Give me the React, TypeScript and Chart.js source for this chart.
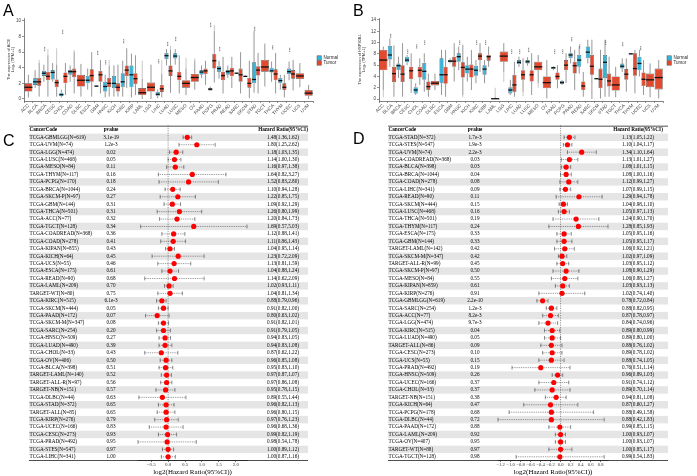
import React, { useEffect, useRef } from "react";
import { Chart, registerables } from "chart.js";

Chart.register(...registerables);

const SANS = "'Liberation Sans', Arial, sans-serif";
const SERIF = "'Liberation Serif', 'Times New Roman', serif";
const NORMAL_COLOR = "#35b3d8";
const TUMOR_COLOR = "#e24a2f";
const AXIS = "#4a4a4a";

type Box = number[] | null; // [lower whisker, Q1, median, Q3, upper whisker]
type Num = number | null;

const CANCERS = [
  "ACC", "BLCA", "BRCA", "CESC", "CHOL", "COAD", "DLBC", "ESCA", "GBM", "HNSC", "KICH",
  "KIRC", "KIRP", "LAML", "LGG", "LIHC", "LUAD", "LUSC", "MESO", "OV", "PAAD", "PCPG",
  "PRAD", "READ", "SARC", "SKCM", "STAD", "TGCT", "THCA", "THYM", "UCEC", "UCS", "UVM",
];

// ---- ACE expression, log2(TPM+1) ----
const ACE_NORMAL: Box[] = [
  null, [1.4, 1.8, 2.2, 2.65, 3.7], [2.2, 2.95, 3.3, 3.6, 4.4], [2.2, 2.5, 3.4, 3.7, 4.6],
  [0.2, 0.35, 0.55, 0.8, 1.2], [2.2, 3.1, 3.5, 3.7, 4.3], null, [1.2, 2.0, 2.4, 2.95, 3.9],
  [1.55, 1.6, 1.65, 1.7, 1.75], [0.2, 0.95, 1.6, 2.2, 3.1], [0.3, 1.4, 2.0, 2.95, 4.3],
  [0.3, 1.5, 2.2, 3.3, 4.9], [0.2, 1.5, 3.1, 4.3, 5.8], null, null, [0.1, 0.4, 0.6, 0.9, 1.2],
  [4.3, 5.1, 5.55, 5.9, 6.4], [4.4, 5.2, 5.5, 5.85, 6.4], null, null, [2.7, 3.1, 3.45, 3.7, 4.3],
  [1.05, 1.1, 1.25, 1.4, 1.6], [2.6, 3.5, 3.9, 4.2, 4.9], [2.7, 3.1, 3.5, 3.7, 4.3],
  [3.25, 3.3, 3.3, 3.35, 3.4], [2.85, 2.9, 2.9, 2.95, 3.0], [0.8, 2.0, 2.5, 4.7, 8.7], null,
  [2.2, 3.4, 3.6, 4.0, 4.8], [1.2, 2.0, 2.35, 2.7, 3.1], [2.4, 3.2, 3.5, 3.9, 4.8], null, null,
];
const ACE_TUMOR: Box[] = [
  [0.2, 0.95, 1.5, 2.0, 3.1], [0.3, 1.7, 2.2, 2.7, 4.6], [0.3, 2.4, 2.9, 3.5, 5.6],
  [0.3, 1.5, 2.1, 2.5, 4.4], [0.5, 2.0, 2.9, 3.4, 4.6], [0.7, 2.8, 3.5, 3.9, 6.0],
  [0.3, 1.6, 2.4, 3.1, 4.5], [0.3, 2.2, 3.0, 3.8, 6.0], [0.7, 2.2, 3.1, 3.6, 5.0],
  [0.3, 1.5, 2.0, 2.7, 4.3], [0.3, 0.95, 1.5, 2.0, 4.4], [1.4, 2.9, 3.7, 4.3, 6.5],
  [0.5, 1.9, 2.6, 3.3, 5.6], [0.0, 0.5, 0.8, 1.4, 2.6], [0.0, 0.95, 1.5, 2.1, 4.4],
  [0.2, 0.9, 1.3, 1.8, 3.2], [0.8, 2.95, 3.6, 4.3, 6.3], [0.7, 2.4, 2.9, 3.5, 5.6],
  [0.5, 1.45, 2.0, 2.4, 3.9], [1.2, 2.2, 2.75, 3.2, 4.9], [1.8, 3.2, 3.6, 3.9, 4.9],
  [2.1, 3.9, 4.9, 5.8, 8.7], [0.7, 2.4, 3.0, 3.5, 5.4], [1.4, 2.9, 3.6, 4.0, 5.4],
  [0.7, 2.2, 3.1, 3.9, 6.0], [0.1, 1.45, 2.0, 2.7, 4.9], [0.7, 3.0, 3.7, 4.2, 5.9],
  [1.6, 3.5, 4.1, 5.0, 7.1], [0.7, 2.4, 3.2, 3.8, 5.9], [0.2, 1.15, 1.5, 2.0, 3.1],
  [1.1, 2.6, 3.2, 3.7, 5.0], [1.5, 2.55, 2.95, 3.3, 4.6], [0.0, 0.4, 0.75, 1.15, 1.8],
];
// highest outlier above the upper whisker
const ACE_TUMOR_OUT_HI: Num[] = [
  null, 5.0, 6.4, 6.5, null, 6.3, null, null, null, 5.0, null, null, null, 4.9, null, 5.0,
  6.8, null, 5.3, 5.2, null, 9.5, null, null, null, null, null, null, null, null, null, null, null,
];
const ACE_SIG_Y: Num[] = [
  null, null, 6.4, null, 8.6, null, null, null, 5.9, 4.7, null, 7.4, null, null, null, 4.8,
  7.05, 7.7, null, null, null, 9.5, 6.4, null, null, null, 9.0, null, 6.6, null, 6.3, null, null,
];

// ---- HSP90B1 expression, log2(TPM+1) ----
const HSP_NORMAL: Box[] = [
  null, [5.7, 7.0, 7.8, 9.4, 10.7], [3.7, 5.1, 5.9, 6.3, 7.5], [6.0, 6.5, 6.9, 7.5, 7.8],
  [0.7, 1.0, 1.6, 2.1, 2.8], [1.3, 3.4, 4.9, 6.4, 8.1], null, [0.7, 2.8, 4.3, 7.2, 8.7],
  [6.3, 6.5, 6.7, 6.9, 7.2], [5.1, 6.6, 7.5, 8.1, 9.3], [3.1, 4.5, 5.3, 6.0, 7.5],
  [2.8, 4.1, 5.1, 5.9, 6.9], [2.8, 4.3, 5.3, 6.0, 6.9], null, null, [0.7, 1.0, 1.6, 2.1, 3.4],
  [5.7, 6.2, 6.5, 6.9, 7.5], [5.9, 6.3, 6.6, 6.9, 7.4], null, null, [5.1, 5.3, 5.55, 5.7, 5.8],
  [2.5, 2.7, 2.9, 3.2, 3.4], [6.3, 7.2, 7.8, 8.2, 9.3], [4.5, 5.7, 6.9, 7.8, 9.3],
  [6.3, 7.2, 8.3, 9.3, 10.5], [3.55, 3.6, 3.6, 3.65, 3.7], [0.4, 3.7, 6.5, 7.8, 10.5], null,
  [4.8, 5.4, 5.8, 6.3, 7.2], [7.9, 7.95, 8.0, 8.05, 8.1], [4.0, 5.1, 6.3, 7.5, 8.7], null, null,
];
const HSP_TUMOR: Box[] = [
  [1.6, 5.1, 6.9, 8.7, 9.3], [0.4, 3.0, 4.5, 5.7, 9.5], [0.4, 3.0, 4.4, 6.0, 9.9],
  [1.1, 3.5, 5.0, 5.7, 8.1], [2.5, 3.8, 5.1, 5.7, 7.2], [0.4, 1.6, 2.2, 3.1, 4.5],
  [1.6, 2.4, 2.8, 3.2, 4.5], [0.4, 2.7, 4.3, 5.7, 8.7], [3.1, 5.7, 6.7, 7.5, 9.9],
  [0.7, 3.8, 5.6, 6.5, 9.6], [1.6, 3.8, 5.3, 6.1, 8.7], [4.8, 6.9, 7.6, 8.1, 9.9],
  [5.7, 6.8, 7.5, 7.8, 9.3], [0.0, 0.0, 0.05, 0.1, 0.4], [4.8, 6.6, 7.6, 8.4, 9.9],
  [0.4, 1.3, 2.5, 4.3, 6.6], [1.3, 3.4, 4.3, 5.1, 7.2], [0.7, 3.1, 4.3, 5.1, 8.1],
  [2.8, 5.1, 5.7, 6.6, 7.8], [0.1, 1.9, 2.9, 4.0, 6.9], [1.9, 3.4, 4.0, 4.7, 6.0],
  [2.8, 5.1, 6.0, 6.9, 8.1], [1.6, 4.5, 5.9, 6.6, 8.7], [0.4, 1.6, 2.3, 3.1, 4.8],
  [0.0, 4.3, 5.8, 7.8, 10.5], [0.1, 1.9, 3.5, 5.4, 8.7], [0.4, 2.2, 3.2, 4.5, 7.5],
  [0.3, 1.5, 2.5, 4.0, 5.7], [1.3, 3.4, 4.4, 5.3, 7.2], [1.0, 4.1, 5.4, 8.1, 8.7],
  [0.7, 2.3, 3.5, 4.7, 6.9], [0.3, 2.1, 3.4, 4.5, 6.3], [0.1, 1.7, 3.8, 5.4, 6.9],
];
const HSP_TUMOR_OUT_HI: Num[] = [
  null, null, null, null, null, null, null, null, null, null, null, null, null, 2.0, null, null,
  null, null, null, null, null, null, null, null, null, null, null, null, null, null, null, null, null,
];
const HSP_TUMOR_OUT_LO: Num[] = [
  0.3, null, null, null, null, null, null, null, null, 0.3, null, null, null, null, 3.0, null,
  0.5, null, 2.0, null, null, null, null, null, null, null, null, null, null, null, null, null, null,
];
const HSP_SIG_Y: Num[] = [
  null, 11.2, null, 8.4, 9.3, 10.0, null, null, null, 10.0, null, 10.0, 10.0, null, null, 8.4,
  8.4, 8.7, null, null, 8.4, 8.4, 10.6, 9.3, null, null, 10.0, null, 9.7, null, 9.0, null, null,
];

// ---- univariate Cox results, ACE ----
const C_CODES = [
  "TCGA-GBMLGG(N=619)", "TCGA-UVM(N=74)", "TCGA-LGG(N=474)", "TCGA-LUSC(N=468)", "TCGA-MESO(N=84)",
  "TCGA-THYM(N=117)", "TCGA-PCPG(N=170)", "TCGA-BRCA(N=1044)", "TCGA-SKCM-P(N=97)", "TCGA-GBM(N=144)",
  "TCGA-THCA(N=501)", "TCGA-ACC(N=77)", "TCGA-TGCT(N=128)", "TCGA-COADREAD(N=368)", "TCGA-COAD(N=278)",
  "TCGA-KIPAN(N=855)", "TCGA-KICH(N=64)", "TCGA-UCS(N=55)", "TCGA-ESCA(N=175)", "TCGA-READ(N=90)",
  "TCGA-LAML(N=209)", "TARGET-WT(N=80)", "TCGA-KIRC(N=515)", "TCGA-SKCM(N=444)", "TCGA-PAAD(N=172)",
  "TCGA-SKCM-M(N=347)", "TCGA-SARC(N=254)", "TCGA-HNSC(N=509)", "TCGA-LUAD(N=490)", "TCGA-CHOL(N=33)",
  "TCGA-OV(N=406)", "TCGA-BLCA(N=398)", "TARGET-LAML(N=140)", "TARGET-ALL-R(N=97)", "TARGET-NB(N=151)",
  "TCGA-DLBC(N=44)", "TCGA-STAD(N=372)", "TARGET-ALL(N=85)", "TCGA-KIRP(N=276)", "TCGA-UCEC(N=166)",
  "TCGA-CESC(N=273)", "TCGA-PRAD(N=492)", "TCGA-STES(N=547)", "TCGA-LIHC(N=341)",
];
const C_PVALUES = [
  "3.1e-19", "1.2e-3", "0.02", "0.05", "0.11", "0.16", "0.18", "0.24", "0.27", "0.31", "0.31",
  "0.32", "0.34", "0.36", "0.41", "0.43", "0.45", "0.46", "0.61", "0.68", "0.70", "0.75",
  "6.1e-3", "0.05", "0.07", "0.08", "0.20", "0.27", "0.39", "0.43", "0.50", "0.51", "0.52",
  "0.56", "0.57", "0.63", "0.65", "0.65", "0.79", "0.83", "0.93", "0.95", "0.97", "1.00",
];
const C_HR = [
  1.48, 1.80, 1.18, 1.14, 1.16, 1.64, 1.52, 1.10, 1.22, 1.09, 1.26, 1.20, 1.69, 1.12, 1.11,
  1.04, 1.23, 1.13, 1.04, 1.14, 1.02, 1.04, 0.88, 0.91, 0.80, 0.91, 0.91, 0.94, 0.94, 0.87,
  0.96, 0.95, 0.97, 0.97, 0.95, 0.89, 0.96, 0.96, 0.97, 0.96, 0.99, 0.98, 1.00, 1.00,
];
const C_LOWER = [
  1.36, 1.25, 1.03, 1.00, 0.97, 0.82, 0.83, 0.94, 0.85, 0.92, 0.80, 0.84, 0.57, 0.88, 0.86,
  0.95, 0.72, 0.81, 0.88, 0.62, 0.93, 0.81, 0.79, 0.82, 0.63, 0.82, 0.79, 0.83, 0.83, 0.62,
  0.85, 0.83, 0.87, 0.86, 0.78, 0.55, 0.82, 0.80, 0.76, 0.68, 0.82, 0.54, 0.89, 0.87,
];
const C_UPPER = [
  1.62, 2.62, 1.35, 1.30, 1.38, 3.27, 2.80, 1.28, 1.75, 1.29, 1.99, 1.73, 5.03, 1.41, 1.43,
  1.14, 2.09, 1.59, 1.24, 2.09, 1.11, 1.34, 0.96, 1.00, 1.02, 1.01, 1.05, 1.05, 1.08, 1.22,
  1.08, 1.10, 1.07, 1.08, 1.15, 1.44, 1.13, 1.15, 1.23, 1.36, 1.19, 1.78, 1.12, 1.16,
];

// ---- univariate Cox results, HSP90B1 ----
const D_CODES = [
  "TCGA-STAD(N=372)", "TCGA-STES(N=547)", "TCGA-UVM(N=74)", "TCGA-COADREAD(N=368)", "TCGA-BLCA(N=398)",
  "TCGA-BRCA(N=1044)", "TCGA-COAD(N=278)", "TCGA-LIHC(N=341)", "TCGA-READ(N=90)", "TCGA-SKCM(N=444)",
  "TCGA-LUSC(N=468)", "TCGA-THCA(N=501)", "TCGA-THYM(N=117)", "TCGA-ESCA(N=175)", "TCGA-GBM(N=144)",
  "TARGET-LAML(N=142)", "TCGA-SKCM-M(N=347)", "TARGET-ALL-R(N=99)", "TCGA-SKCM-P(N=97)", "TCGA-MESO(N=84)",
  "TCGA-KIPAN(N=859)", "TCGA-KIRP(N=276)", "TCGA-GBMLGG(N=619)", "TCGA-SARC(N=254)", "TCGA-ACC(N=77)",
  "TCGA-LGG(N=474)", "TCGA-KIRC(N=515)", "TCGA-LUAD(N=490)", "TARGET-ALL(N=86)", "TCGA-CESC(N=273)",
  "TCGA-UCS(N=55)", "TCGA-PRAD(N=492)", "TCGA-HNSC(N=509)", "TCGA-UCEC(N=166)", "TCGA-CHOL(N=33)",
  "TARGET-NB(N=151)", "TCGA-KICH(N=64)", "TCGA-PCPG(N=178)", "TCGA-DLBC(N=44)", "TCGA-PAAD(N=172)",
  "TCGA-LAML(N=209)", "TCGA-OV(N=407)", "TARGET-WT(N=88)", "TCGA-TGCT(N=128)",
];
const D_PVALUES = [
  "1.7e-3", "1.9e-3", "2.2e-3", "0.03", "0.03", "0.04", "0.08", "0.09", "0.11", "0.15", "0.16",
  "0.19", "0.24", "0.33", "0.33", "0.42", "0.42", "0.45", "0.50", "0.55", "0.61", "0.91",
  "2.2e-10", "1.2e-3", "8.2e-3", "9.7e-3", "0.04", "0.05", "0.09", "0.10", "0.15", "0.19", "0.26",
  "0.37", "0.37", "0.38", "0.47", "0.68", "0.72", "0.88", "0.92", "0.95", "0.97", "0.98",
];
const D_HR = [
  1.13, 1.10, 1.34, 1.13, 1.08, 1.08, 1.12, 1.07, 1.29, 1.04, 1.05, 1.24, 1.28, 1.05, 1.05,
  1.06, 1.02, 1.03, 1.08, 1.06, 1.03, 1.02, 0.78, 0.88, 0.87, 0.84, 0.89, 0.89, 0.88, 0.89,
  0.88, 0.76, 0.96, 0.91, 0.89, 0.94, 0.87, 0.88, 0.88, 0.99, 1.00, 1.00, 1.00, 0.99,
];
const D_LOWER = [
  1.05, 1.04, 1.10, 1.01, 1.01, 1.00, 0.99, 0.99, 0.94, 0.98, 0.97, 0.90, 0.85, 0.95, 0.95,
  0.92, 0.97, 0.95, 0.90, 0.88, 0.93, 0.74, 0.72, 0.82, 0.78, 0.74, 0.80, 0.80, 0.76, 0.78,
  0.74, 0.51, 0.89, 0.74, 0.70, 0.81, 0.60, 0.49, 0.42, 0.85, 0.93, 0.93, 0.85, 0.54,
];
const D_UPPER = [
  1.22, 1.17, 1.64, 1.27, 1.15, 1.16, 1.27, 1.15, 1.78, 1.10, 1.13, 1.70, 1.93, 1.16, 1.17,
  1.21, 1.09, 1.12, 1.29, 1.27, 1.13, 1.40, 0.84, 0.95, 0.97, 0.96, 0.99, 1.00, 1.02, 1.02,
  1.05, 1.14, 1.03, 1.12, 1.14, 1.08, 1.27, 1.58, 1.83, 1.15, 1.07, 1.07, 1.17, 1.83,
];

type BoxPanelProps = {
  left: number; top: number; width: number; height: number;
  gene: string; normal: Box[]; tumor: Box[];
  tumorOutHi: Num[]; tumorOutLo?: Num[]; sigY: Num[];
  yMin: number; yMax: number; axisLeft: number; padRight: number; titlePad: number;
  catPct: number;
};

function BoxPanel(p: BoxPanelProps) {
  const ref = useRef<HTMLCanvasElement>(null);
  useEffect(() => {
    const extras = {
      id: "boxExtras",
      beforeDatasetsDraw(chart: any) {
        const { ctx } = chart;
        const ys = chart.scales.y;
        const xs = chart.scales.x;
        ctx.save();
        [p.normal, p.tumor].forEach((stats, d) => {
          const meta = chart.getDatasetMeta(d);
          stats.forEach((b, i) => {
            if (!b) return;
            const el = meta.data[i];
            const cx = el.x;
            if (d === 1) {
              const hi = p.tumorOutHi[i];
              const lo = p.tumorOutLo ? p.tumorOutLo[i] : null;
              ctx.strokeStyle = "#c2c2c2";
              ctx.lineWidth = 0.9;
              if (hi != null) {
                ctx.beginPath(); ctx.moveTo(cx, ys.getPixelForValue(b[4])); ctx.lineTo(cx, ys.getPixelForValue(hi)); ctx.stroke();
              }
              if (lo != null) {
                ctx.beginPath(); ctx.moveTo(cx, ys.getPixelForValue(b[0])); ctx.lineTo(cx, ys.getPixelForValue(lo)); ctx.stroke();
              }
            }
            ctx.strokeStyle = "#7c7c7c";
            ctx.lineWidth = 0.8;
            ctx.beginPath();
            ctx.moveTo(cx, ys.getPixelForValue(b[4])); ctx.lineTo(cx, ys.getPixelForValue(b[3]));
            ctx.moveTo(cx, ys.getPixelForValue(b[1])); ctx.lineTo(cx, ys.getPixelForValue(b[0]));
            ctx.stroke();
          });
        });
        // significance marks
        ctx.fillStyle = "#3a3a3a";
        ctx.font = `4px ${SANS}`;
        ctx.textAlign = "center";
        ctx.textBaseline = "middle";
        p.sigY.forEach((v, i) => {
          if (v == null) return;
          ctx.save();
          ctx.translate(xs.getPixelForValue(i), ys.getPixelForValue(v));
          ctx.rotate(-Math.PI / 2);
          ctx.fillText("***", 0, 0);
          ctx.restore();
        });
        ctx.restore();
      },
      afterDatasetsDraw(chart: any) {
        const { ctx } = chart;
        const ys = chart.scales.y;
        ctx.save();
        ctx.strokeStyle = "#111";
        ctx.lineWidth = 1.3;
        [p.normal, p.tumor].forEach((stats, d) => {
          const meta = chart.getDatasetMeta(d);
          stats.forEach((b, i) => {
            if (!b) return;
            const el = meta.data[i];
            const y = ys.getPixelForValue(b[2]);
            ctx.beginPath();
            ctx.moveTo(el.x - el.width / 2, y);
            ctx.lineTo(el.x + el.width / 2, y);
            ctx.stroke();
          });
        });
        ctx.restore();
      },
      afterDraw(chart: any) {
        const { ctx, chartArea } = chart;
        const lx = chartArea.right + 4;
        const cy = (chartArea.top + chartArea.bottom) / 2;
        ctx.save();
        ctx.font = `4.5px ${SANS}`;
        ctx.textBaseline = "middle";
        ctx.textAlign = "left";
        chart.data.datasets.forEach((ds: any, k: number) => {
          const yy = cy - 1.5 + k * 5;
          ctx.fillStyle = ds.backgroundColor;
          ctx.fillRect(lx, yy - 2.2, 4.4, 4.4);
          ctx.strokeStyle = "#555";
          ctx.lineWidth = 0.5;
          ctx.strokeRect(lx, yy - 2.2, 4.4, 4.4);
          ctx.fillStyle = "#222";
          ctx.fillText(ds.label, lx + 6.5, yy);
        });
        ctx.restore();
      },
    };

    const common = {
      borderColor: "#4d4d4d",
      borderWidth: 0.6,
      borderSkipped: false,
      skipNull: true,
      categoryPercentage: p.catPct,
      barPercentage: 1,
    };
    const chart = new Chart(ref.current as HTMLCanvasElement, {
      type: "bar",
      data: {
        labels: CANCERS,
        datasets: [
          { label: "Normal", data: p.normal.map((b) => (b ? [b[1], b[3]] : null)), backgroundColor: NORMAL_COLOR, ...common } as any,
          { label: "Tumor", data: p.tumor.map((b) => (b ? [b[1], b[3]] : null)), backgroundColor: TUMOR_COLOR, ...common } as any,
        ],
      },
      options: {
        responsive: false,
        animation: false,
        events: [],
        layout: { padding: { left: 0, right: p.padRight, top: 18, bottom: 0 } },
        plugins: { legend: { display: false }, tooltip: { enabled: false } },
        scales: {
          x: {
            type: "category",
            offset: true,
            grid: { display: true, drawOnChartArea: false, drawTicks: true, tickLength: 2, color: AXIS, lineWidth: 0.6 },
            border: { display: true, color: AXIS, width: 0.7 },
            ticks: { autoSkip: false, maxRotation: 45, minRotation: 45, font: { family: SANS, size: 4.6 }, color: "#444", padding: 0 },
            afterFit: (s: any) => { s.height = 27; },
          },
          y: {
            type: "linear",
            min: p.yMin,
            max: p.yMax,
            grid: { display: true, drawOnChartArea: false, drawTicks: true, tickLength: 2, color: AXIS, lineWidth: 0.6 },
            border: { display: true, color: AXIS, width: 0.7 },
            ticks: { stepSize: 2, includeBounds: false, font: { family: SANS, size: 4.6 }, color: "#444", padding: 1 },
            title: {
              display: true,
              text: [`The expression of ${p.gene}`, "Log\u2082 (TPM+1)"],
              font: { family: SANS, size: 4 },
              color: "#333",
              padding: { top: p.titlePad, bottom: 0 },
            },
            afterFit: (s: any) => { s.width = p.axisLeft; },
          },
        },
      } as any,
      plugins: [extras],
    });
    return () => chart.destroy();
  }, []);
  return (
    <canvas
      ref={ref}
      width={p.width}
      height={p.height}
      style={{ position: "absolute", left: p.left, top: p.top, width: p.width, height: p.height }}
    />
  );
}

type ForestProps = {
  left: number; top: number; width: number; height: number;
  codes: string[]; pvalues: string[]; hr: number[]; lower: number[]; upper: number[];
  tableLeft: number; tableRight: number; pCenter: number; hrCenter: number;
  plotLeft: number; plotRight: number; step: number; tickSize: number;
};

function ForestPanel(p: ForestProps) {
  const ref = useRef<HTMLCanvasElement>(null);
  useEffect(() => {
    const n = p.codes.length;
    const table = {
      id: "forestTable",
      beforeDatasetsDraw(chart: any) {
        const { ctx, chartArea } = chart;
        const xs = chart.scales.x;
        const ys = chart.scales.y;
        ctx.save();
        ctx.fillStyle = "#e5e5e5";
        for (let i = 0; i < n; i += 2) {
          const y0 = ys.getPixelForValue(i + 0.5);
          const y1 = ys.getPixelForValue(i + 1.5);
          ctx.fillRect(p.tableLeft, y0, p.tableRight - p.tableLeft, y1 - y0);
        }
        // reference line, HR = 1
        const zx = xs.getPixelForValue(0);
        ctx.strokeStyle = "#6a6a6a";
        ctx.lineWidth = 0.7;
        ctx.setLineDash([1.2, 1.2]);
        ctx.beginPath();
        ctx.moveTo(zx, ys.getPixelForValue(-0.6));
        ctx.lineTo(zx, chartArea.bottom);
        ctx.stroke();
        // confidence intervals
        ctx.strokeStyle = "#404040";
        ctx.lineWidth = 0.6;
        for (let i = 0; i < n; i++) {
          const yy = ys.getPixelForValue(i + 1);
          const xl = xs.getPixelForValue(Math.log2(p.lower[i]));
          const xh = xs.getPixelForValue(Math.log2(p.upper[i]));
          ctx.setLineDash([0.9, 0.9]);
          ctx.beginPath(); ctx.moveTo(xl, yy); ctx.lineTo(xh, yy); ctx.stroke();
          ctx.setLineDash([]);
          ctx.beginPath();
          ctx.moveTo(xl, yy - 1.9); ctx.lineTo(xl, yy + 1.9);
          ctx.moveTo(xh, yy - 1.9); ctx.lineTo(xh, yy + 1.9);
          ctx.stroke();
        }
        ctx.restore();
      },
      afterDraw(chart: any) {
        const { ctx, chartArea } = chart;
        const ys = chart.scales.y;
        ctx.save();
        ctx.fillStyle = "#000";
        ctx.textBaseline = "middle";
        const hy = ys.getPixelForValue(0);
        ctx.font = `bold 5.2px ${SERIF}`;
        ctx.textAlign = "left";
        ctx.fillText("CancerCode", p.tableLeft + 0.5, hy);
        ctx.textAlign = "center";
        ctx.fillText("pvalue", p.pCenter, hy);
        ctx.fillText("Hazard Ratio(95%CI)", p.hrCenter, hy);
        ctx.font = `5.2px ${SERIF}`;
        for (let i = 0; i < n; i++) {
          const yy = ys.getPixelForValue(i + 1);
          ctx.textAlign = "left";
          ctx.fillText(p.codes[i], p.tableLeft + 0.5, yy);
          ctx.textAlign = "center";
          ctx.fillText(p.pvalues[i], p.pCenter, yy);
          ctx.fillText(`${p.hr[i].toFixed(2)}(${p.lower[i].toFixed(2)},${p.upper[i].toFixed(2)})`, p.hrCenter, yy);
        }
        ctx.strokeStyle = "#222";
        ctx.lineWidth = 0.8;
        ctx.beginPath();
        const ty = ys.getPixelForValue(-0.5);
        ctx.moveTo(p.tableLeft, ty); ctx.lineTo(p.tableRight, ty);
        ctx.moveTo(p.tableLeft, chartArea.bottom); ctx.lineTo(p.tableRight, chartArea.bottom);
        ctx.stroke();
        ctx.restore();
      },
    };

    const xMin = Math.log2(Math.min(...p.lower));
    const xMax = Math.log2(Math.max(...p.upper));
    const chart = new Chart(ref.current as HTMLCanvasElement, {
      type: "scatter",
      data: {
        datasets: [
          {
            label: "log2(HR)",
            data: p.hr.map((h, i) => ({ x: Math.log2(h), y: i + 1 })),
            backgroundColor: "#ff0000",
            borderWidth: 0,
            pointRadius: 2.6,
          },
        ],
      },
      options: {
        responsive: false,
        animation: false,
        events: [],
        layout: { padding: { left: p.plotLeft, right: p.width - p.plotRight, top: 13.6, bottom: 0 } },
        plugins: { legend: { display: false }, tooltip: { enabled: false } },
        scales: {
          x: {
            type: "linear",
            min: xMin,
            max: xMax,
            grid: { display: true, drawOnChartArea: false, drawTicks: true, tickLength: 1.6, color: "#222", lineWidth: 0.6 },
            border: { display: true, color: "#222", width: 0.8 },
            ticks: {
              stepSize: p.step,
              includeBounds: false,
              autoSkip: false,
              minRotation: 0,
              maxRotation: 0,
              font: { family: SERIF, size: p.tickSize },
              color: "#333",
              padding: 0,
              callback: (v: any) => Number(v).toFixed(1).replace("-", "\u2212"),
            },
            title: { display: true, text: "log2(Hazard Ratio(95%CI))", font: { family: SERIF, size: 7 }, color: "#000", padding: 0 },
            afterFit: (s: any) => { s.height = 15.5; },
          },
          y: { type: "linear", min: 0.5, max: n + 0.5, reverse: true, display: false },
        },
      } as any,
      plugins: [table],
    });
    return () => chart.destroy();
  }, []);
  return (
    <canvas
      ref={ref}
      width={p.width}
      height={p.height}
      style={{ position: "absolute", left: p.left, top: p.top, width: p.width, height: p.height }}
    />
  );
}

const letterStyle = (left: number, top: number): React.CSSProperties => ({
  position: "absolute",
  left,
  top,
  fontFamily: SANS,
  fontSize: 16,
  lineHeight: "16px",
  color: "#000",
});

export default function App() {
  return (
    <div style={{ position: "absolute", left: 0, top: 0, width: 697, height: 476, background: "#fff", overflow: "hidden" }}>
      <BoxPanel
        left={0} top={0} width={350} height={128}
        gene="ACE" normal={ACE_NORMAL} tumor={ACE_TUMOR}
        tumorOutHi={ACE_TUMOR_OUT_HI} sigY={ACE_SIG_Y}
        yMin={-0.26} yMax={10.38} axisLeft={24} padRight={37} titlePad={6} catPct={0.92}
      />
      <BoxPanel
        left={350} top={0} width={347} height={128}
        gene="HSP90B1" normal={HSP_NORMAL} tumor={HSP_TUMOR}
        tumorOutHi={HSP_TUMOR_OUT_HI} tumorOutLo={HSP_TUMOR_OUT_LO} sigY={HSP_SIG_Y}
        yMin={-0.35} yMax={14.35} axisLeft={29} padRight={34} titlePad={7} catPct={0.95}
      />
      <ForestPanel
        left={0} top={120} width={350} height={356}
        codes={C_CODES} pvalues={C_PVALUES} hr={C_HR} lower={C_LOWER} upper={C_UPPER}
        tableLeft={29} tableRight={308} pCenter={111} hrCenter={283}
        plotLeft={138} plotRight={247} step={0.5} tickSize={5}
      />
      <ForestPanel
        left={350} top={120} width={347} height={356}
        codes={D_CODES} pvalues={D_PVALUES} hr={D_HR} lower={D_LOWER} upper={D_UPPER}
        tableLeft={38} tableRight={318} pCenter={125} hrCenter={288}
        plotLeft={148} plotRight={258} step={0.2} tickSize={4.6}
      />
      <div style={letterStyle(3, 3)}>A</div>
      <div style={letterStyle(353, 3)}>B</div>
      <div style={letterStyle(3, 133)}>C</div>
      <div style={letterStyle(353, 131)}>D</div>
    </div>
  );
}
